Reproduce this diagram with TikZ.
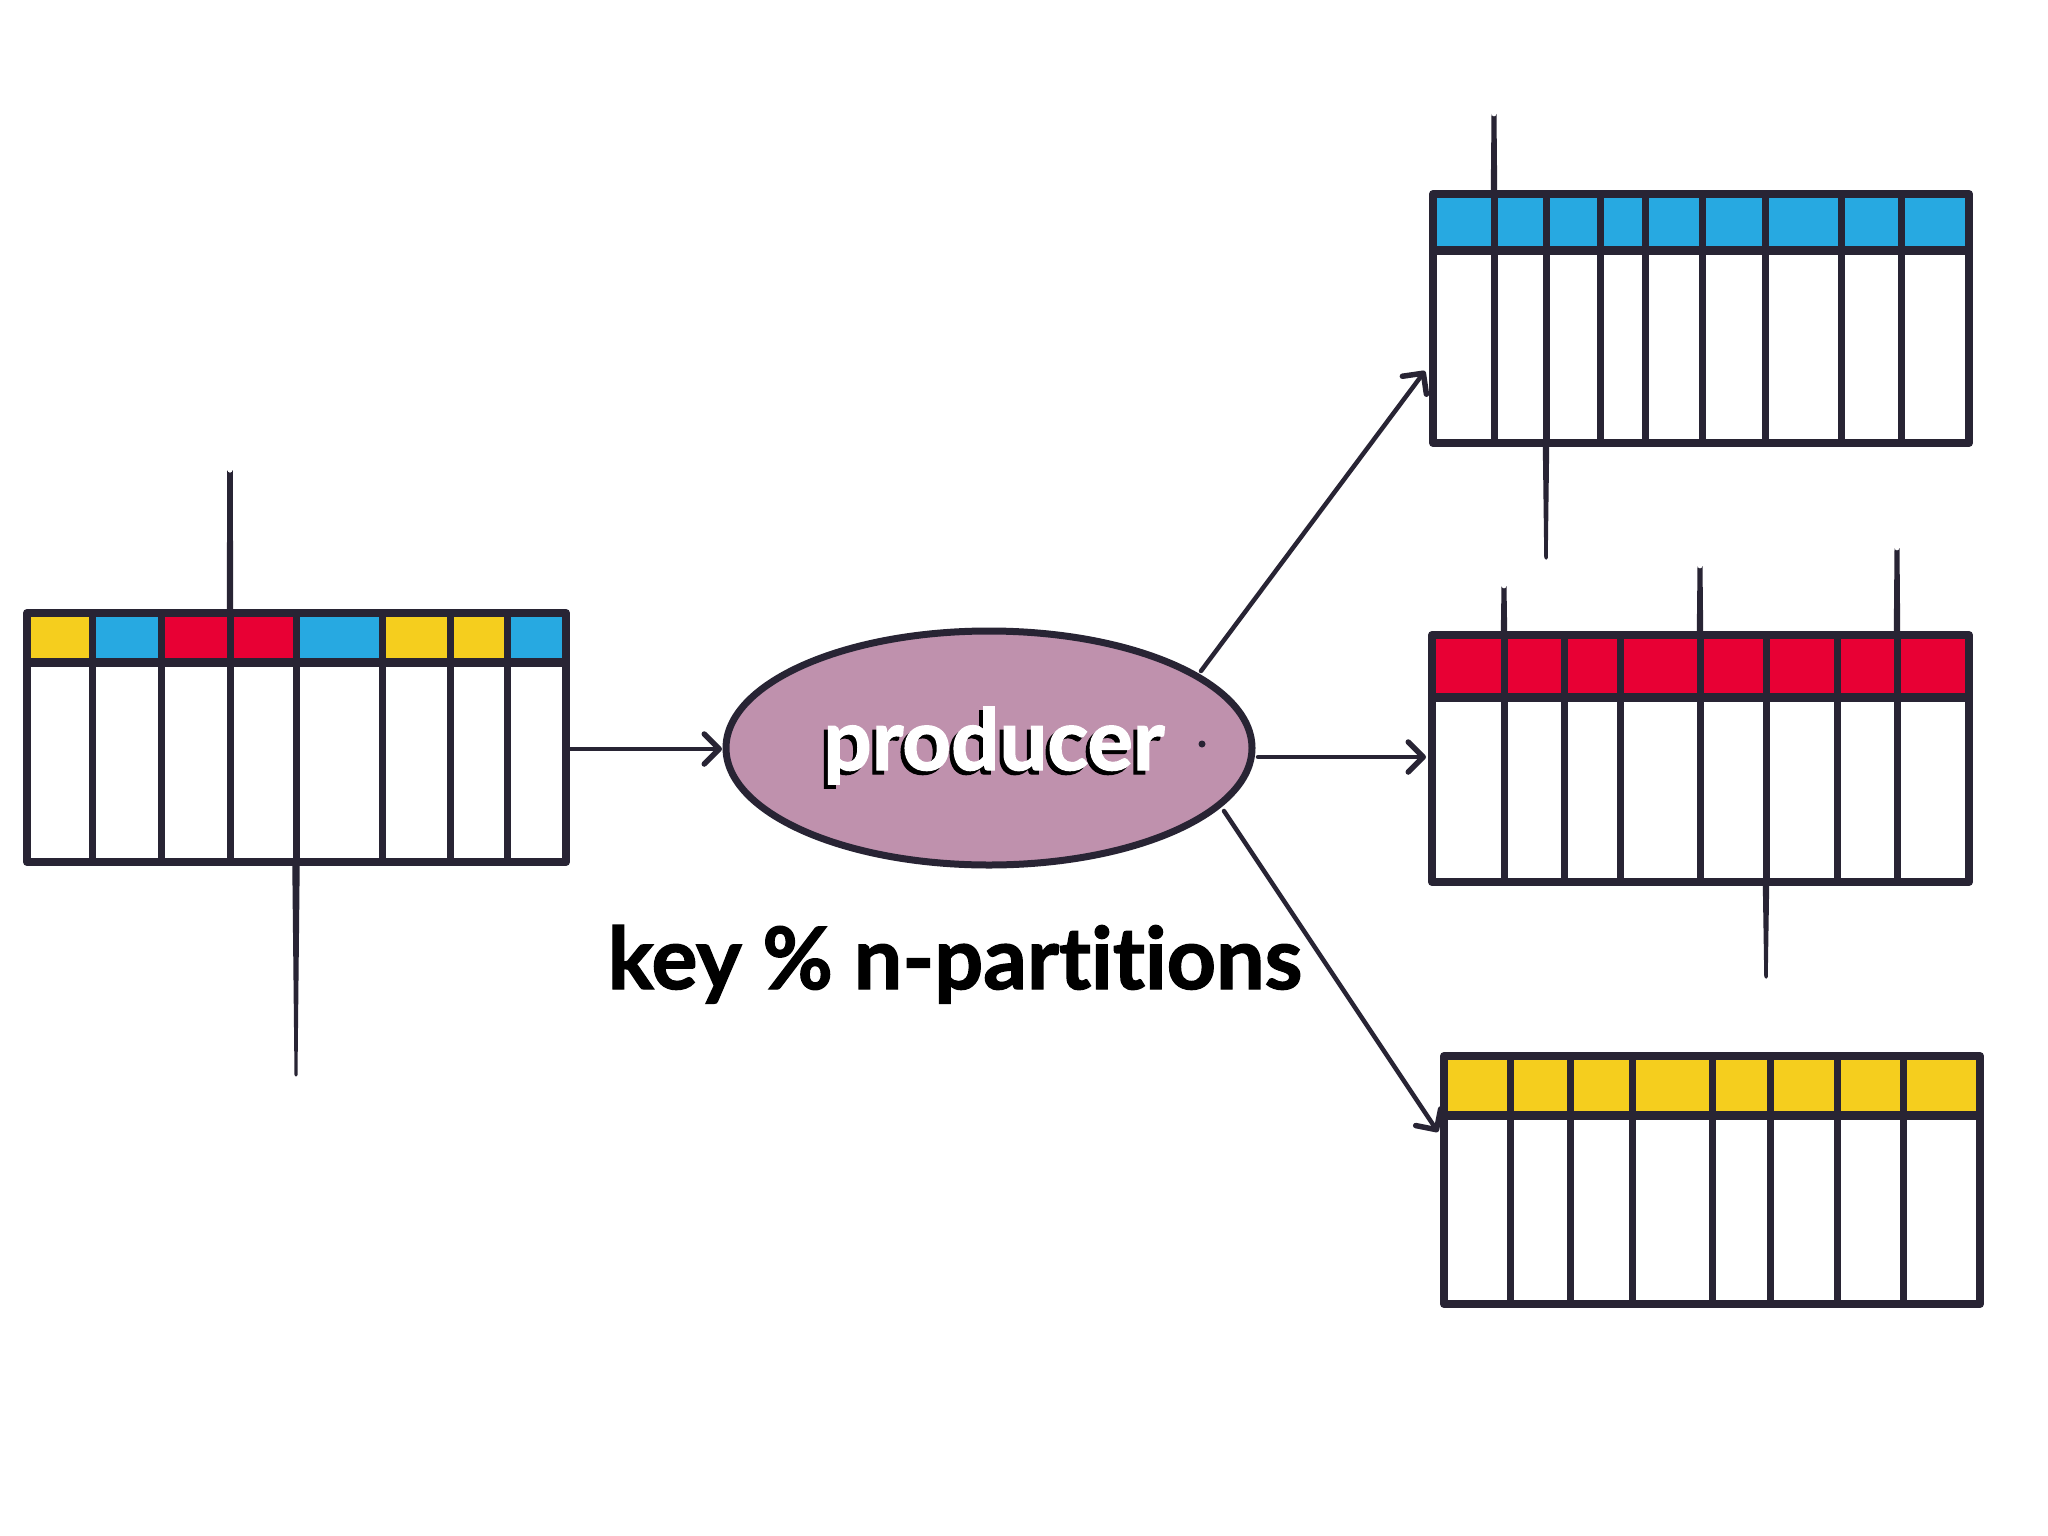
\documentclass[tikz,border=0pt]{standalone}
\usepackage{fontspec}
\setmainfont{Lato}[Ligatures={NoCommon}]
\newfontfamily\heavyfont{Lato}[Ligatures={NoCommon},BoldFeatures={FakeBold=1.6}]
\usetikzlibrary{arrows.meta,shapes.geometric}
\definecolor{ink}{RGB}{40,36,52}
\definecolor{cyel}{RGB}{245,206,30}
\definecolor{cblu}{RGB}{39,169,225}
\definecolor{cred}{RGB}{232,0,52}
\definecolor{cpur}{RGB}{191,145,173}
\newcommand\taperline[5]{% x, y1 (thick end), y2 (thin end), w1, w2
  \fill[ink] ({#1-#4/2},#2) -- ({#1+#4/2},#2) -- ({#1+#5/2},#3) arc[start angle=0,end angle=180,radius=#5/2] -- cycle;}
\begin{document}
\begin{tikzpicture}[x=1pt,y=-1pt,
  tbl/.style={draw=ink,line width=8pt,line join=round,line cap=round},
  col/.style={draw=ink,line width=7pt},
  hdr/.style={draw=ink,line width=9pt},
  conn/.style={draw=ink,line width=4.5pt,line cap=round,
    -{Straight Barb[length=15pt,width=30pt,line width=5.5pt,round]}}]
\fill[white] (0,0) rectangle (2048,1536);
\useasboundingbox (0,0) rectangle (2048,1536);

% ---------- left table ----------
\foreach \xa/\xb/\c in {27/92/cyel,92/161/cblu,161/230/cred,230/296/cred,296/382/cblu,382/450/cyel,450/507/cyel,507/566/cblu}
  \fill[\c] (\xa,613) rectangle (\xb,662);
\taperline{230}{613}{470}{6.5}{5.5}
\taperline{296}{862}{1075}{7.5}{3}
\foreach \x in {92,161,230,296,382,450,507}
  \draw[col] (\x,613) -- (\x,862);
\draw[hdr] (27,662) -- (566,662);
\draw[tbl] (27,613) rectangle (566,862);

% ---------- top table (blue) ----------
\fill[cblu] (1433,194) rectangle (1969,250);
\taperline{1494}{194}{114}{6.5}{5}
\taperline{1546}{443}{558}{6.5}{3.5}
\foreach \x in {1494,1546,1600,1645,1702,1765,1841,1901}
  \draw[col] (\x,194) -- (\x,443);
\draw[hdr] (1433,250) -- (1969,250);
\draw[tbl] (1433,194) rectangle (1969,443);

% ---------- middle table (red) ----------
\fill[cred] (1432,635) rectangle (1969,697);
\taperline{1504}{635}{586}{6.5}{5}
\taperline{1700}{635}{566}{6.5}{5}
\taperline{1897}{635}{548}{6.5}{5}
\taperline{1766}{882}{977}{6.5}{3.5}
\foreach \x in {1504,1564,1620,1700,1766,1837,1897}
  \draw[col] (\x,635) -- (\x,882);
\draw[hdr] (1432,697) -- (1969,697);
\draw[tbl] (1432,635) rectangle (1969,882);

% ---------- bottom table (yellow) ----------
\fill[cyel] (1444,1056) rectangle (1980,1115);
\foreach \x in {1510,1570,1632,1712,1770,1837,1903}
  \draw[col] (\x,1056) -- (\x,1304);
\draw[hdr] (1444,1115) -- (1980,1115);
\draw[tbl] (1444,1056) rectangle (1980,1304);

% ---------- producer ----------
\node[ellipse,draw=ink,line width=7pt,fill=cpur,minimum width=526pt,minimum height=234pt,inner sep=0pt] (prod) at (989,748) {};
\node[anchor=base,text=black,inner sep=0pt] (prodshadow) at (990,774) {\heavyfont\fontsize{85}{90}\selectfont\bfseries producer};
\node[anchor=base,text=white,inner sep=0pt] (prodtext) at (994,770) {\heavyfont\fontsize{85}{90}\selectfont\bfseries producer};
\fill[ink] (1202,744) circle[radius=3.5];

% ---------- label ----------
\node[anchor=base,text=black,inner sep=0pt] (rule) at (955,989) {\heavyfont\fontsize{86}{90}\selectfont\bfseries key \% n-partitions};

% ---------- connectors ----------
\coordinate (a1s) at (570,749); \coordinate (a1e) at (722,749);
\coordinate (a2s) at (1201,671); \coordinate (a2e) at (1425,371);
\coordinate (a3s) at (1258,757); \coordinate (a3e) at (1426,757);
\coordinate (a4s) at (1224,811); \coordinate (a4e) at (1438,1132);
\draw[conn] (a1s) -- (a1e);
\draw[conn] (a2s) -- (a2e);
\draw[conn] (a3s) -- (a3e);
\draw[conn] (a4s) -- (a4e);
\end{tikzpicture}
\end{document}
